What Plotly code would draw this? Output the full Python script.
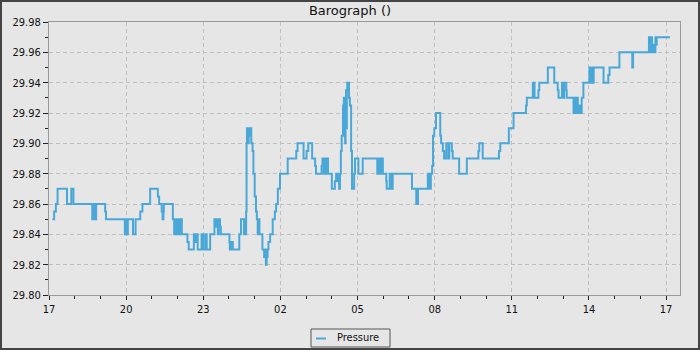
import pandas as pd
import plotly.graph_objects as go

# minutes after 17:00 on the first day
minutes = [
    8, 12, 16, 20, 42, 52, 57,
    101, 103, 105, 107, 108, 110,
    131, 133,
    177, 179, 181, 184,
    196, 202,
    213, 218, 236,
    254, 257, 263, 265, 267, 268,
    289, 292, 295, 298, 301, 304, 307, 310,
    323, 326,
    338, 340, 342, 344, 346, 347,
    356, 360, 365, 368, 376,
    386, 389, 391, 394, 396, 399, 401,
    421, 422, 424, 426, 428, 429,
    444, 448, 455, 457, 459, 460, 461,
    462, 464, 466, 468, 470, 472, 475, 477, 480, 483, 485, 487, 489, 491,
    498, 502, 504, 506, 508, 510, 512, 516, 522, 527, 530, 534, 539,
    557, 577, 580, 594, 601, 605, 614, 621, 623,
    636, 638, 641, 643, 646, 648, 651,
    660, 667, 670, 672, 674, 677, 679, 681, 683,
    686, 687, 688, 689, 690, 691, 692, 693, 694, 695, 696,
    700, 702, 705, 707, 712, 714, 722, 732,
    766, 768, 771, 773, 776, 778, 779,
    787, 788, 795, 797, 799, 801, 802,
    847, 857, 861,
    884, 886, 888, 890, 891, 894, 896, 899, 903,
    913, 915, 919, 922, 927, 932, 934, 940, 942,
    957, 975, 1002, 1004, 1012, 1050, 1053, 1073, 1084, 1113, 1115,
    1129, 1133, 1142, 1144, 1164,
    1179, 1187, 1189, 1197, 1200, 1202, 1207, 1208,
    1224, 1227, 1229, 1232, 1234, 1237, 1239, 1243, 1247,
    1261, 1263, 1265, 1267, 1269, 1271,
    1294, 1305, 1308, 1331, 1361, 1363,
    1400, 1402, 1405, 1407, 1410, 1412, 1415, 1417, 1418, 1449,
]

pressure = [
    29.85, 29.855, 29.86, 29.87, 29.86, 29.87, 29.86,
    29.85, 29.86, 29.85, 29.86, 29.85, 29.86,
    29.855, 29.85,
    29.84, 29.85, 29.84, 29.85,
    29.84, 29.85,
    29.855, 29.86, 29.87,
    29.865, 29.86, 29.855, 29.85, 29.855, 29.86,
    29.85, 29.84, 29.85, 29.84, 29.85, 29.84, 29.85, 29.84,
    29.835, 29.83,
    29.84, 29.835, 29.84, 29.835, 29.84, 29.83,
    29.84, 29.83, 29.84, 29.83, 29.84,
    29.85, 29.845, 29.85, 29.84, 29.85, 29.845, 29.84,
    29.835, 29.83, 29.835, 29.83, 29.835, 29.83,
    29.84, 29.85, 29.84, 29.85, 29.84, 29.855, 29.90,
    29.91, 29.90, 29.91, 29.905, 29.91, 29.90, 29.895, 29.88, 29.865, 29.855, 29.85, 29.84, 29.85, 29.84,
    29.83, 29.825, 29.83, 29.82, 29.825, 29.83, 29.835, 29.84, 29.85, 29.855, 29.86, 29.87, 29.88,
    29.89, 29.895, 29.90, 29.89, 29.895, 29.90, 29.89, 29.885, 29.88,
    29.885, 29.89, 29.88, 29.89, 29.88, 29.89, 29.88,
    29.87, 29.875, 29.88, 29.875, 29.88, 29.87, 29.88, 29.895, 29.905,
    29.925, 29.905, 29.93, 29.905, 29.925, 29.90, 29.925, 29.935, 29.91, 29.935, 29.94,
    29.93, 29.925, 29.895, 29.87, 29.88, 29.89, 29.88, 29.89,
    29.88, 29.89, 29.88, 29.89, 29.88, 29.89, 29.88,
    29.875, 29.87, 29.88, 29.87, 29.88, 29.87, 29.88,
    29.87, 29.86, 29.87,
    29.88, 29.87, 29.88, 29.87, 29.88, 29.885, 29.905, 29.91, 29.92,
    29.905, 29.90, 29.895, 29.89, 29.90, 29.89, 29.90, 29.895, 29.89,
    29.88, 29.89, 29.895, 29.90, 29.89, 29.895, 29.90, 29.91, 29.92, 29.925, 29.93,
    29.94, 29.93, 29.935, 29.94, 29.95,
    29.94, 29.935, 29.93, 29.94, 29.93, 29.94, 29.935, 29.93,
    29.92, 29.93, 29.92, 29.93, 29.92, 29.925, 29.92, 29.93, 29.94,
    29.95, 29.94, 29.95, 29.945, 29.94, 29.95,
    29.94, 29.945, 29.95, 29.96, 29.95, 29.96,
    29.97, 29.96, 29.97, 29.96, 29.965, 29.96, 29.97, 29.965, 29.97, 29.97,
]

series_name = "Pressure"
chart_title = "Barograph ()"

start = pd.Timestamp("2024-01-01 17:00")
times = start + pd.to_timedelta(minutes, unit="m")

BG = "#e6e6e6"
GRID = "#c0c0c0"
AXIS = "#999999"
LINE = "#4aa8d8"
FONT = "DejaVu Sans Condensed, DejaVu Sans, sans-serif"
DASH = "4px,3px"

# plot area geometry in pixels (for paper-coordinate decorations)
L, R, T, B = 49, 20, 22, 55
PW, PH = 700 - L - R, 350 - T - B


def px(x):
    return (x - L) / PW


def py(y):
    return (350 - B - y) / PH


fig = go.Figure()
fig.add_trace(go.Scatter(
    x=times, y=pressure, mode="lines", name=series_name, showlegend=False,
    line=dict(color=LINE, width=2, shape="hv"),
))

shapes = [
    # outer frame
    dict(type="rect", xref="paper", yref="paper",
         x0=px(1), x1=px(699), y0=py(349), y1=py(1),
         line=dict(color="#444444", width=2), fillcolor="rgba(0,0,0,0)", layer="above"),
    # legend box
    dict(type="rect", xref="paper", yref="paper",
         x0=px(311), x1=px(390), y0=py(347), y1=py(329),
         line=dict(color="#555555", width=1), fillcolor=BG, layer="above"),
    # legend line sample
    dict(type="line", xref="paper", yref="paper",
         x0=px(316), x1=px(326), y0=py(338.5), y1=py(338.5),
         line=dict(color=LINE, width=2), layer="above"),
]

fig.update_layout(
    width=700, height=350,
    margin=dict(l=L, r=R, t=T, b=B, autoexpand=False),
    paper_bgcolor=BG, plot_bgcolor=BG,
    font=dict(family=FONT, size=11, color="#111111"),
    title=dict(text=chart_title, x=0.5, xanchor="center", xref="container",
               y=1 - 10 / 350, yref="container", yanchor="middle",
               font=dict(family="DejaVu Sans, sans-serif", size=13, color="#111111")),
    showlegend=False,
    shapes=shapes,
    annotations=[dict(text=series_name, xref="paper", yref="paper",
                      x=px(335), y=py(338), xanchor="left", yanchor="middle",
                      showarrow=False, font=dict(family=FONT, size=11, color="#111111"))],
)

fig.update_xaxes(
    type="date",
    range=[start, start + pd.Timedelta(hours=24.54)],
    tick0=start, dtick=3 * 3600 * 1000, tickformat="%H",
    ticks="outside", ticklen=4, tickcolor="#222222",
    minor=dict(dtick=3600 * 1000, ticks="outside", ticklen=3, tickcolor="#222222", showgrid=False),
    showgrid=True, gridcolor=GRID, griddash=DASH, gridwidth=1,
    showline=True, linecolor=AXIS, linewidth=1, mirror=True,
    zeroline=False,
)
fig.update_yaxes(
    range=[29.80, 29.98], dtick=0.02, tick0=29.80, tickformat=".2f",
    ticks="outside", ticklen=5, tickcolor="#222222",
    minor=dict(dtick=0.01, ticks="outside", ticklen=3, tickcolor="#222222", showgrid=False),
    showgrid=True, gridcolor=GRID, griddash=DASH, gridwidth=1,
    showline=True, linecolor=AXIS, linewidth=1, mirror=True,
    zeroline=False,
)

fig.write_html("out.html")
